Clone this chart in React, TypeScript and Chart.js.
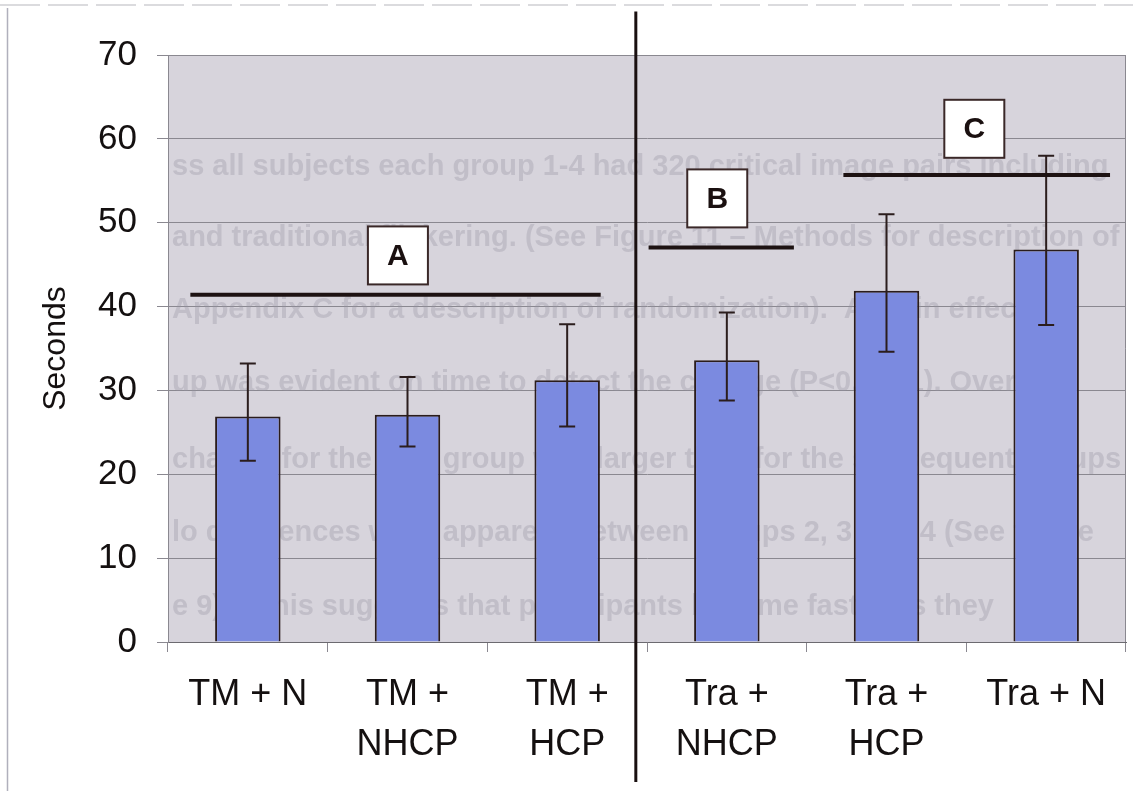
import React, { useEffect, useRef } from "react";
import { Chart, registerables } from "chart.js";

Chart.register(...registerables);

// ---------- data ----------
const categories: (string | string[])[] = [
  "TM + N",
  ["TM +", "NHCP"],
  ["TM +", "HCP"],
  ["Tra +", "NHCP"],
  ["Tra +", "HCP"],
  "Tra + N",
];
const meanSeconds = [26.9, 27.1, 31.2, 33.6, 41.9, 46.8];
const errorLow = [21.6, 23.3, 25.7, 28.8, 34.6, 37.8];
const errorHigh = [33.2, 31.6, 37.9, 39.3, 51.0, 58.0];
const yMin = 0;
const yMax = 70;
const yStep = 10;
const axisTitle = "Seconds";

// group annotation lines (category-index units / value units)
const groupLabels = ["A", "B", "C"];
const groupLineValue = [41.4, 47.05, 55.7];
const groupLineFrom = [-0.36, 2.51, 3.73];
const groupLineTo = [2.21, 3.42, 5.4];
const groupBoxIndex = [0.94, 2.94, 4.55];
const groupBoxValue = [46.1, 52.9, 61.2];
const dividerIndex = 2.43;
const dividerFrom = -16.7;
const dividerTo = 75.2;

// faint show-through text from the scanned page
const ghostLines = [
  "ss all subjects each group 1-4 had 320 critical image pairs including",
  "and traditional flickering. (See Figure 11 \u2013 Methods for description of",
  "Appendix C for a description of randomization).  A main effect of",
  "up was evident on time to detect the change (P<0.0001). Overall,",
  "change for the first group was larger than for the subsequent groups",
  "lo differences were apparent between groups 2, 3 and 4 (See figure",
  "e 9).   This suggests that participants became faster as they",
];
const ghostValues = [56.7, 48.2, 39.6, 30.9, 21.7, 13.0, 4.2];

const FONT = "'Liberation Sans', Arial, Helvetica, sans-serif";

const decorPlugin = {
  id: "decor",
  beforeDraw(chart: any) {
    const { ctx, chartArea: a } = chart;
    ctx.save();
    ctx.fillStyle = "#ffffff";
    ctx.fillRect(0, 0, chart.width, chart.height);
    ctx.fillStyle = "#d7d4dc";
    ctx.fillRect(a.left, a.top, a.right - a.left, a.bottom - a.top);
    ctx.restore();
  },
  beforeDatasetsDraw(chart: any) {
    const { ctx, chartArea: a, scales } = chart;
    const ys = scales.y;
    ctx.save();
    ctx.beginPath();
    ctx.rect(a.left, a.top, a.right - a.left, a.bottom - a.top);
    ctx.clip();
    ctx.fillStyle = "rgba(150,146,160,0.33)";
    ctx.font = `bold 29px ${FONT}`;
    ctx.textAlign = "left";
    ctx.textBaseline = "middle";
    ghostLines.forEach((t, i) => {
      ctx.fillText(t, a.left + 4, ys.getPixelForValue(ghostValues[i]));
    });
    ctx.restore();
  },
  afterDatasetsDraw(chart: any) {
    const { ctx, chartArea: a, scales } = chart;
    const xs = scales.x;
    const ys = scales.y;
    const x0 = xs.getPixelForValue(0);
    const dx = xs.getPixelForValue(1) - x0;
    const px = (v: number) => x0 + v * dx;

    ctx.save();
    // plot border (top/right)
    ctx.strokeStyle = "#8a8890";
    ctx.lineWidth = 1;
    ctx.beginPath();
    ctx.moveTo(a.left, a.top + 0.5);
    ctx.lineTo(a.right - 0.5, a.top + 0.5);
    ctx.lineTo(a.right - 0.5, a.bottom);
    ctx.stroke();

    // error bars
    ctx.strokeStyle = "#2b1d1d";
    ctx.lineWidth = 2;
    meanSeconds.forEach((_, i) => {
      const x = xs.getPixelForValue(i);
      const yl = ys.getPixelForValue(errorLow[i]);
      const yh = ys.getPixelForValue(errorHigh[i]);
      ctx.beginPath();
      ctx.moveTo(x, yl);
      ctx.lineTo(x, yh);
      ctx.moveTo(x - 8, yl);
      ctx.lineTo(x + 8, yl);
      ctx.moveTo(x - 8, yh);
      ctx.lineTo(x + 8, yh);
      ctx.stroke();
    });

    // group lines
    ctx.strokeStyle = "#1d1212";
    ctx.lineWidth = 4;
    groupLabels.forEach((_, i) => {
      const y = ys.getPixelForValue(groupLineValue[i]);
      ctx.beginPath();
      ctx.moveTo(px(groupLineFrom[i]), y);
      ctx.lineTo(px(groupLineTo[i]), y);
      ctx.stroke();
    });

    // boxes
    groupLabels.forEach((lab, i) => {
      const cx = px(groupBoxIndex[i]);
      const cy = ys.getPixelForValue(groupBoxValue[i]);
      const w = 60;
      const h = 58;
      ctx.fillStyle = "#ffffff";
      ctx.fillRect(cx - w / 2, cy - h / 2, w, h);
      ctx.strokeStyle = "#3a2828";
      ctx.lineWidth = 2;
      ctx.strokeRect(cx - w / 2, cy - h / 2, w, h);
      ctx.fillStyle = "#1a1010";
      ctx.font = `bold 30px ${FONT}`;
      ctx.textAlign = "center";
      ctx.textBaseline = "middle";
      ctx.fillText(lab, cx, cy + 1);
    });

    // divider
    ctx.strokeStyle = "#1a1010";
    ctx.lineWidth = 3;
    ctx.beginPath();
    ctx.moveTo(px(dividerIndex), ys.getPixelForValue(dividerTo));
    ctx.lineTo(px(dividerIndex), ys.getPixelForValue(dividerFrom));
    ctx.stroke();

    // page frame
    ctx.strokeStyle = "#b0b0bc";
    ctx.lineWidth = 1.5;
    ctx.beginPath();
    ctx.moveTo(7.5, 8);
    ctx.lineTo(7.5, chart.height);
    ctx.stroke();
    ctx.strokeStyle = "#d0d0d4";
    ctx.setLineDash([40, 8]);
    ctx.beginPath();
    ctx.moveTo(0, 5);
    ctx.lineTo(chart.width, 5);
    ctx.stroke();
    ctx.restore();
  },
};

export default function App() {
  const ref = useRef<HTMLCanvasElement | null>(null);

  useEffect(() => {
    if (!ref.current) return;
    const chart = new Chart(ref.current, {
      type: "bar",
      data: {
        labels: categories as any,
        datasets: [
          {
            data: meanSeconds,
            backgroundColor: "#7b8ae0",
            borderColor: "#2a1c1c",
            borderWidth: 2,
            barPercentage: 0.41,
            categoryPercentage: 1,
          },
        ],
      },
      options: {
        animation: false,
        responsive: false,
        devicePixelRatio: 1,
        layout: { padding: { top: 55, right: 7, left: 0, bottom: 0 } },
        plugins: {
          legend: { display: false },
          tooltip: { enabled: false },
        },
        scales: {
          x: {
            grid: {
              drawOnChartArea: false,
              drawTicks: true,
              tickLength: 10,
              color: "#8a8890",
            },
            border: { display: true, color: "#6c6a70", width: 1 },
            ticks: {
              font: { family: FONT, size: 36, lineHeight: 1.39 },
              color: "#141010",
              padding: 18,
              maxRotation: 0,
              minRotation: 0,
              autoSkip: false,
            },
            afterFit: (s: any) => {
              s.height = 149;
            },
          },
          y: {
            min: yMin,
            max: yMax,
            ticks: {
              stepSize: yStep,
              font: { family: FONT, size: 35 },
              color: "#141010",
              padding: 20,
            },
            grid: {
              color: "#8a8890",
              lineWidth: 1,
              tickLength: 11,
              drawTicks: true,
            },
            border: { display: true, color: "#8a8890", width: 1 },
            title: {
              display: true,
              text: axisTitle,
              font: { family: FONT, size: 32 },
              color: "#141010",
              padding: { top: 37, bottom: 0 },
            },
            afterFit: (s: any) => {
              s.width = 168;
            },
          },
        },
      },
      plugins: [decorPlugin],
    });
    return () => chart.destroy();
  }, []);

  return (
    <div style={{ position: "absolute", left: 0, top: 0, width: 1133, height: 791 }}>
      <canvas ref={ref} width={1133} height={791} style={{ display: "block" }} />
    </div>
  );
}
